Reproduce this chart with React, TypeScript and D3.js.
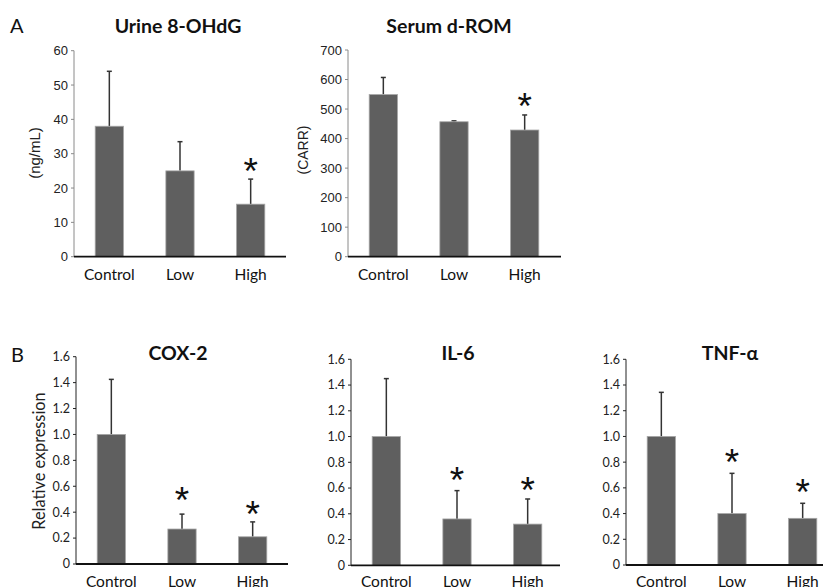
import React from "react";
import * as d3 from "d3";

// values
const categories = ["Control", "Low", "High"];

const urineMean = [38, 25, 15.3];
const urineSd = [16, 8.5, 7.3];
const urineStar = [null, null, 27.3];
const urineTicks = [0, 10, 20, 30, 40, 50, 60];

const dromMean = [549, 457, 429];
const dromSd = [58, 3, 51];
const dromStar = [null, null, 538];
const dromTicks = [0, 100, 200, 300, 400, 500, 600, 700];

const coxMean = [1.0, 0.27, 0.21];
const coxSd = [0.425, 0.115, 0.115];
const coxStar = [null, 0.56, 0.45];

const il6Mean = [1.0, 0.36, 0.32];
const il6Sd = [0.45, 0.22, 0.195];
const il6Star = [null, 0.727, 0.649];

const tnfMean = [1.0, 0.4, 0.363];
const tnfSd = [0.343, 0.313, 0.117];
const tnfStar = [null, 0.869, 0.635];

const relTicks = [0, 0.2, 0.4, 0.6, 0.8, 1.0, 1.2, 1.4, 1.6];

const CAL = "Lato, 'Open Sans', sans-serif";
const ARIAL = "'Liberation Sans', Arial, sans-serif";

type PanelProps = {
  title: string;
  mean: number[];
  sd: number[];
  star: (number | null)[];
  ticks: number[];
  left: number;
  right: number;
  top: number;
  bottom: number;
  titleX: number;
  titleY: number;
  catY: number;
  style: "A" | "B";
  fmt: (d: number) => string;
};

function Panel(p: PanelProps) {
  const x = d3
    .scaleBand()
    .domain(categories)
    .range([p.left, p.left + 212])
    .paddingInner(0.6)
    .paddingOuter(0.3);
  const y = d3
    .scaleLinear()
    .domain([0, p.ticks[p.ticks.length - 1]])
    .range([p.bottom, p.top]);
  const bw = x.bandwidth();
  const isA = p.style === "A";
  const axisColor = isA ? "#8a8a8a" : "#222";
  const starSize = 37;

  return (
    <g>
      <text
        x={p.titleX}
        y={p.titleY}
        textAnchor="middle"
        fontFamily={CAL}
        fontWeight="bold"
        fontSize={19.5}
        fill="#111"
      >
        {p.title}
      </text>
      {/* y axis */}
      <line x1={p.left} x2={p.left} y1={p.top} y2={p.bottom} stroke={axisColor} strokeWidth={1} />
      {p.ticks.map((t) => (
        <g key={t}>
          <line x1={p.left - 3} x2={p.left} y1={y(t)} y2={y(t)} stroke={axisColor} strokeWidth={1} />
          <text
            x={p.left - 6}
            y={y(t)}
            dy="0.35em"
            textAnchor="end"
            fontFamily={isA ? ARIAL : CAL}
            fontSize={isA ? 13 : 12.5}
            fill="#222"
          >
            {p.fmt(t)}
          </text>
        </g>
      ))}
      {/* bars */}
      {categories.map((c, i) => {
        const x0 = x(c) as number;
        const cx = x0 + bw / 2;
        const top = y(p.mean[i]);
        const errTop = y(p.mean[i] + p.sd[i]);
        const s = p.star[i];
        return (
          <g key={c}>
            <line x1={cx} x2={cx} y1={top} y2={errTop} stroke="#333" strokeWidth={1.5} />
            <line x1={cx - 2.5} x2={cx + 2.5} y1={errTop} y2={errTop} stroke="#333" strokeWidth={1.5} />
            <rect
              x={x0}
              y={top}
              width={bw}
              height={p.bottom - top}
              fill="#5f5f5f"
              stroke="#a6a6a6"
              strokeWidth={0.8}
            />
            {s !== null && (
              <text
                x={cx}
                y={y(s) + starSize * 0.58}
                textAnchor="middle"
                fontFamily={ARIAL}
                fontSize={starSize}
                fill="#111"
              >
                *
              </text>
            )}
            <text
              x={cx}
              y={p.catY}
              textAnchor="middle"
              fontFamily={CAL}
              fontSize={15.5}
              fill="#111"
            >
              {c}
            </text>
          </g>
        );
      })}
      {/* x axis */}
      <line x1={p.left} x2={p.right} y1={p.bottom} y2={p.bottom} stroke="#111" strokeWidth={1.8} />
    </g>
  );
}

const fmtInt = (d: number) => String(d);
const fmtRel = (d: number) => (d === 0 ? "0" : d.toFixed(1));

export default function App() {
  return (
    <svg
      width={823}
      height={587}
      style={{ position: "absolute", left: 0, top: 0, background: "#fff" }}
    >
      <rect x={0} y={0} width={823} height={587} fill="#fff" />
      <text x={10} y={33} fontFamily={CAL} fontSize={20} fill="#111">A</text>
      <text x={11} y={362} fontFamily={CAL} fontSize={20} fill="#111">B</text>

      <Panel
        title="Urine 8-OHdG"
        mean={urineMean}
        sd={urineSd}
        star={urineStar}
        ticks={urineTicks}
        left={74}
        right={286}
        top={50.7}
        bottom={256.7}
        titleX={178}
        titleY={33}
        catY={279.5}
        style="A"
        fmt={fmtInt}
      />
      <Panel
        title="Serum d-ROM"
        mean={dromMean}
        sd={dromSd}
        star={dromStar}
        ticks={dromTicks}
        left={348}
        right={561}
        top={50}
        bottom={256.7}
        titleX={449}
        titleY={33}
        catY={279.5}
        style="A"
        fmt={fmtInt}
      />
      <Panel
        title="COX-2"
        mean={coxMean}
        sd={coxSd}
        star={coxStar}
        ticks={relTicks}
        left={76}
        right={288}
        top={356.7}
        bottom={564}
        titleX={178}
        titleY={360}
        catY={586.5}
        style="B"
        fmt={fmtRel}
      />
      <Panel
        title="IL-6"
        mean={il6Mean}
        sd={il6Sd}
        star={il6Star}
        ticks={relTicks}
        left={351}
        right={560}
        top={359.3}
        bottom={565.3}
        titleX={458}
        titleY={360}
        catY={586.5}
        style="B"
        fmt={fmtRel}
      />
      <Panel
        title="TNF-α"
        mean={tnfMean}
        sd={tnfSd}
        star={tnfStar}
        ticks={relTicks}
        left={626}
        right={823}
        top={359.3}
        bottom={565}
        titleX={730}
        titleY={360}
        catY={586.5}
        style="B"
        fmt={fmtRel}
      />

      <text
        transform="translate(40,153) rotate(-90)"
        textAnchor="middle"
        fontFamily={ARIAL}
        fontSize={15}
        fill="#222"
      >
        (ng/mL)
      </text>
      <text
        transform="translate(308,150) rotate(-90)"
        textAnchor="middle"
        fontFamily={ARIAL}
        fontSize={14}
        fill="#222"
      >
        (CARR)
      </text>
      <text
        transform="translate(45,461) rotate(-90)"
        textAnchor="middle"
        fontFamily={CAL}
        fontSize={16.3}
        fill="#222"
      >
        Relative expression
      </text>
    </svg>
  );
}
